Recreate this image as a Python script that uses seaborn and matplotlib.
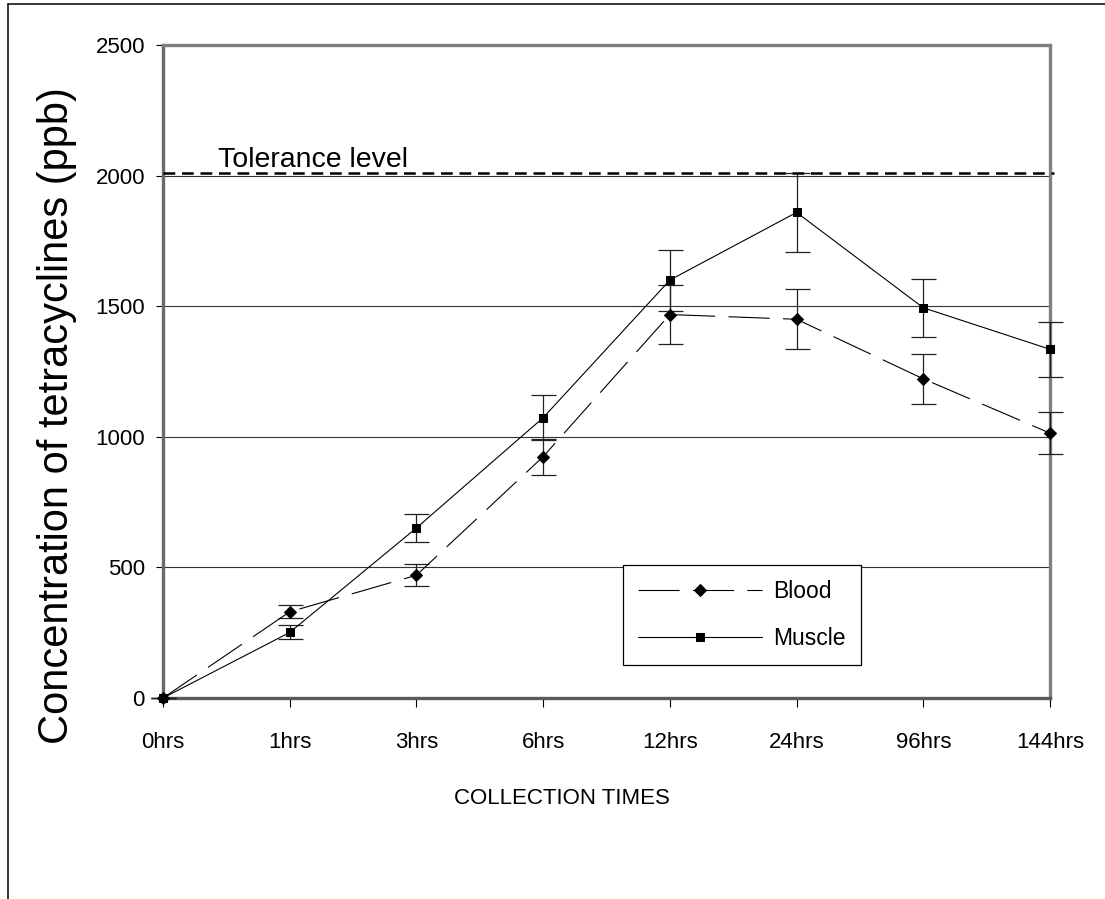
import numpy as np
import pandas as pd
import seaborn as sns
import matplotlib.pyplot as plt
from matplotlib import font_manager
from matplotlib.lines import Line2D
from matplotlib.transforms import blended_transform_factory

# data
times = ['0hrs', '1hrs', '3hrs', '6hrs', '12hrs', '24hrs', '96hrs', '144hrs']
blood = [0, 330, 470, 924, 1468, 1450, 1222, 1014]
blood_err = [0, 25, 43, 69, 112, 114, 95, 80]
muscle = [0, 251, 651, 1073, 1600, 1859, 1494, 1335]
muscle_err = [0, 27, 52, 87, 117, 150, 112, 105]
tolerance = 2010

sns.set_theme(style='white')
names = {f.name for f in font_manager.fontManager.ttflist}
narrow = 'Liberation Sans Narrow' if 'Liberation Sans Narrow' in names else 'Liberation Sans'
plt.rcParams['font.family'] = [narrow, 'DejaVu Sans']
plt.rcParams['text.color'] = 'black'
plt.rcParams['xtick.color'] = 'black'
plt.rcParams['ytick.color'] = 'black'

df = pd.DataFrame({'time': times * 2,
                   'value': blood + muscle,
                   'series': ['Blood'] * len(times) + ['Muscle'] * len(times)})

fig = plt.figure(figsize=(11.05, 8.99), dpi=100)
ax = fig.add_axes([163 / 1105, 1 - 698 / 899, 887 / 1105, 653 / 899])

# error bars first, lines on top
for vals, errs in [(blood, blood_err), (muscle, muscle_err)]:
    eb = ax.errorbar(times, vals, yerr=errs, fmt='none', ecolor='#222222',
                     elinewidth=0.9, capsize=9, capthick=0.9, zorder=3)
    for art in eb.lines[1] + eb.lines[2]:
        art.set_clip_on(False)

sns.lineplot(data=df[df.series == 'Blood'], x='time', y='value', ax=ax, sort=False,
             color='black', lw=0.8, dashes=(37, 12), marker='D', ms=6.5,
             mec='black', mfc='black', label='Blood', zorder=4, clip_on=False)
sns.lineplot(data=df[df.series == 'Muscle'], x='time', y='value', ax=ax, sort=False,
             color='black', lw=0.8, marker='s', ms=5.5,
             mec='black', mfc='black', label='Muscle', zorder=4, clip_on=False)

ax.set_xlim(0, len(times) - 1)
ax.set_ylim(0, 2500)
ax.set_yticks([0, 500, 1000, 1500, 2000, 2500])
ax.grid(axis='y', color='#333333', lw=0.8)
ax.grid(axis='x', visible=False)

for s in ax.spines.values():
    s.set_color('#808080')
    s.set_linewidth(2.4)
    s.set_zorder(2)
ax.spines['left'].set_color('#6a6a6a')
ax.spines['bottom'].set_color('#5a5a5a')

ax.tick_params(axis='y', direction='out', length=5, width=0.8, color='black',
               labelcolor='black', pad=8, labelsize=16, left=True)
ax.tick_params(axis='x', direction='out', length=6.5, width=0.8, color='black',
               labelcolor='black', pad=18, labelsize=16, bottom=True)
ax.set_xlabel('')
ax.set_ylabel('')

# tolerance line
ax.axhline(tolerance, xmin=0, xmax=1.005, color='black', lw=1.8,
           dashes=(4.7, 2.7), clip_on=False, zorder=5)
tr = blended_transform_factory(ax.transAxes, ax.transData)
ax.text(0.062, tolerance + 22, 'Tolerance level', transform=tr, fontsize=20.5,
        va='baseline', ha='left', color='black')

leg = ax.legend(loc='upper left', bbox_to_anchor=(623 / 1105, 1 - 565 / 899),
                bbox_transform=fig.transFigure, fontsize=16.5, frameon=True,
                fancybox=False, edgecolor='black', framealpha=1,
                handlelength=5.4, handletextpad=0.5, labelspacing=1.05,
                borderpad=0.65, borderaxespad=0, labelcolor='black')
leg.get_frame().set_linewidth(0.9)

fig.text(57 / 1105, 1 - 416 / 899, 'Concentration of tetracyclines (ppb)',
         rotation=90, fontsize=30, ha='center', va='center', color='black',
         family=['Liberation Sans', 'DejaVu Sans'])
fig.text(562 / 1105, 1 - 798 / 899, 'COLLECTION TIMES', fontsize=16,
         ha='center', va='center', color='black')

# partial outer frame (top and left)
fig.add_artist(Line2D([8 / 1105, 1], [1 - 4 / 899, 1 - 4 / 899],
                      transform=fig.transFigure, color='black', lw=1.1))
fig.add_artist(Line2D([8 / 1105, 8 / 1105], [0, 1 - 4 / 899],
                      transform=fig.transFigure, color='black', lw=1.1))

fig.savefig('out.png', dpi=100)
